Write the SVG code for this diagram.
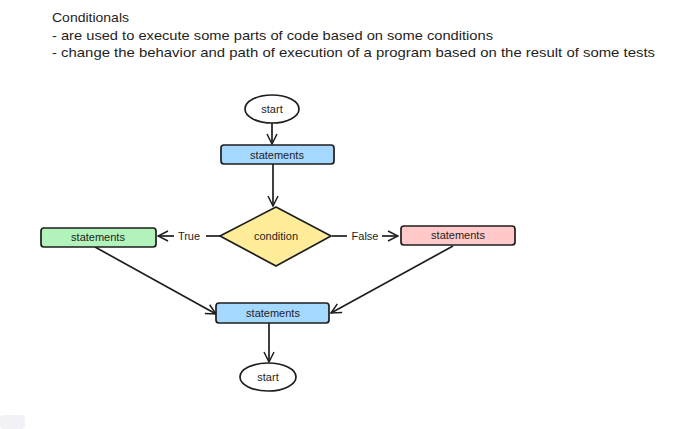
<svg xmlns="http://www.w3.org/2000/svg" width="680" height="429" viewBox="0 0 680 429">
<style>
.t{font-family:"Liberation Sans",Arial,sans-serif;font-size:13.5px;fill:#1e1e1e}
.n{font-family:"Liberation Sans",Arial,sans-serif;font-size:11px;fill:#1e1e1e;text-anchor:middle;dominant-baseline:central}
.s{stroke:#1e1e1e;stroke-width:1.7}
.c{stroke:#1e1e1e;stroke-width:1.7;fill:none}
</style>
<defs>
<marker id="a" viewBox="0 0 12 12" refX="11" refY="6" markerWidth="12" markerHeight="12" markerUnits="userSpaceOnUse" orient="auto">
<path d="M1,1 L11,6 L1,11" fill="none" stroke="#1e1e1e" stroke-width="1.5"/>
</marker>
</defs>
<rect x="0" y="415" width="25" height="14" rx="4" fill="#f1f1f6"/>
<g id="header">
<text class="t" x="52" y="22" textLength="77" lengthAdjust="spacingAndGlyphs">Conditionals</text>
<text class="t" x="52" y="40" textLength="441" lengthAdjust="spacingAndGlyphs">- are used to execute some parts of code based on some conditions</text>
<text class="t" x="52" y="57" textLength="603" lengthAdjust="spacingAndGlyphs">- change the behavior and path of execution of a program based on the result of some tests</text>
</g>
<g id="connectors">
<line class="c" x1="272" y1="123" x2="272" y2="144" marker-end="url(#a)"/>
<line class="c" x1="273" y1="164" x2="273" y2="206" marker-end="url(#a)"/>
<line class="c" x1="220" y1="236" x2="206" y2="236"/>
<line class="c" x1="174" y1="236" x2="158" y2="236" marker-end="url(#a)"/>
<text class="n" x="189" y="236">True</text>
<line class="c" x1="332" y1="236" x2="347" y2="236"/>
<line class="c" x1="382" y1="236" x2="398" y2="236" marker-end="url(#a)"/>
<text class="n" x="365" y="236">False</text>
<line class="c" x1="95" y1="247" x2="216" y2="314" marker-end="url(#a)"/>
<line class="c" x1="453" y1="246" x2="331" y2="313" marker-end="url(#a)"/>
<line class="c" x1="269" y1="323" x2="269" y2="362" marker-end="url(#a)"/>
</g>
<g id="start1">
<ellipse class="s" cx="272" cy="109" rx="27" ry="14" fill="#fff"/>
<text class="n" x="272" y="109">start</text>
</g>
<g id="stmt1">
<rect class="s" x="221" y="145" width="113" height="19" rx="3" fill="#a5d8ff"/>
<text class="n" x="277" y="155">statements</text>
</g>
<g id="condition">
<path class="s" d="M220,236 L276,207 L331,236 L276,266 Z" fill="#ffec99" stroke-linejoin="round"/>
<text class="n" x="276" y="236">condition</text>
</g>
<g id="stmtTrue">
<rect class="s" x="41" y="228" width="115" height="19" rx="3" fill="#b2f2bb"/>
<text class="n" x="98" y="237">statements</text>
</g>
<g id="stmtFalse">
<rect class="s" x="401" y="226" width="114" height="19" rx="3" fill="#ffc9c9"/>
<text class="n" x="458" y="235">statements</text>
</g>
<g id="stmt2">
<rect class="s" x="216" y="303" width="113" height="20" rx="3" fill="#a5d8ff"/>
<text class="n" x="273" y="313">statements</text>
</g>
<g id="start2">
<ellipse class="s" cx="268" cy="377" rx="28" ry="14" fill="#fff"/>
<text class="n" x="268" y="377">start</text>
</g>
</svg>
